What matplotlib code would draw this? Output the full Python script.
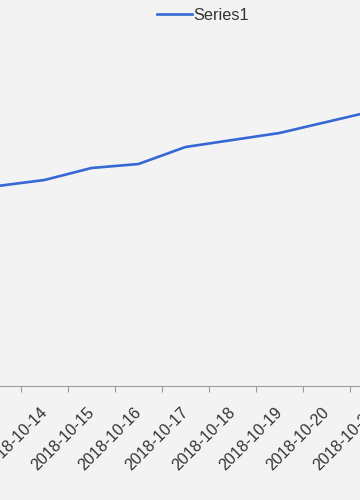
import matplotlib
matplotlib.use("Agg")
import matplotlib.pyplot as plt

plt.rcParams['font.family'] = ['Liberation Sans', 'DejaVu Sans']

categories = ["2018-10-13", "2018-10-14", "2018-10-15", "2018-10-16", "2018-10-17",
              "2018-10-18", "2018-10-19", "2018-10-20", "2018-10-21"]
series1 = [200, 206, 218, 222, 239, 246, 253, 264, 275]
series_name = "Series1"

bg = '#f3f3f3'
line_color = '#3568d4'
text_color = '#333333'
axis_color = '#9a9a9a'

W, H = 360, 500
left_px, right_px = -60, 420  # axes extends beyond the visible figure (cropped view)

fig = plt.figure(figsize=(3.6, 5.0), dpi=100, facecolor=bg)
ax = fig.add_axes([left_px / W, (H - 386) / H, (right_px - left_px) / W, 386 / H])
ax.set_facecolor(bg)

x = list(range(len(categories)))
ax.plot(x, series1, color=line_color, lw=1.9, label=series_name,
        solid_joinstyle='round')

for s in ['top', 'right', 'left']:
    ax.spines[s].set_visible(False)
ax.spines['bottom'].set_color(axis_color)
ax.spines['bottom'].set_linewidth(0.8)
ax.set_yticks([])

ax.set_xticks(x)
ax.set_xticklabels(categories, rotation=45, ha='right', va='center',
                   rotation_mode='anchor', fontsize=11.5, color=text_color)
ax.tick_params(axis='x', which='major', length=0, pad=17)
ax.set_xticks([i - 0.5 for i in x] + [len(x) - 0.5], minor=True)
ax.tick_params(axis='x', which='minor', length=4, width=0.8, color=axis_color, direction='out')

ax.set_xlim((left_px + 2.5) / 47, (right_px + 2.5) / 47)
ax.set_ylim(0, 386)

leg = ax.legend(loc='center', bbox_to_anchor=(203 / W, 1 - 15 / H),
                bbox_transform=fig.transFigure, frameon=False,
                fontsize=11.7, handlelength=2.1, handletextpad=0.1,
                labelcolor=text_color)

fig.savefig('out.png', dpi=100, facecolor=bg)
